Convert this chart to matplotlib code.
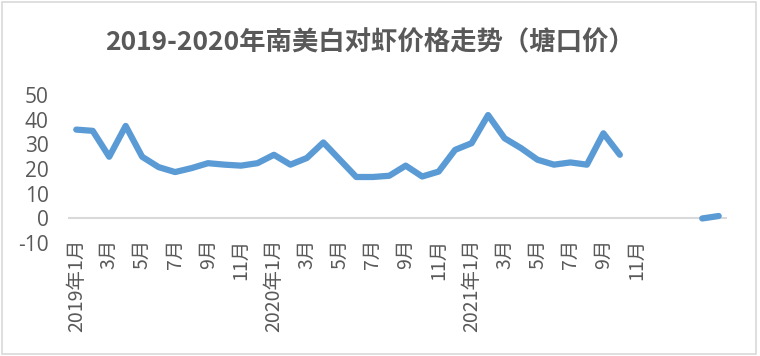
import matplotlib.pyplot as plt
from matplotlib.patches import Rectangle

plt.rcParams['font.family'] = ['Noto Sans CJK SC', 'DejaVu Sans']

title = '2019-2020年南美白对虾价格走势（塘口价）'

# monthly categories, 2019-01 .. 2022-04; later ones carry no label
months = ['2019年1月', '2月', '3月', '4月', '5月', '6月', '7月', '8月', '9月', '10月', '11月', '12月',
          '2020年1月', '2月', '3月', '4月', '5月', '6月', '7月', '8月', '9月', '10月', '11月', '12月',
          '2021年1月', '2月', '3月', '4月', '5月', '6月', '7月', '8月', '9月', '10月', '11月', '',
          '', '', '', '']
prices = [36, 35.5, 25, 37.5, 25, 20.8, 18.8, 20.4, 22.4, 21.8, 21.4, 22.4,
          25.8, 21.8, 24.5, 30.8, 23.8, 16.8, 16.8, 17.3, 21.4, 17, 19, 27.8,
          30.5, 41.9, 32.5, 28.5, 23.8, 21.8, 22.7, 21.8, 34.5, 25.8, None, None,
          None, None, 0, 1]

yticks = [-10, 0, 10, 20, 30, 40, 50]

fig = plt.figure(figsize=(7.6, 3.56), dpi=100)
fig.patches.append(Rectangle((0.003, 0.005), 0.992, 0.99, transform=fig.transFigure,
                             fill=False, edgecolor='#D9D9D9', linewidth=1.2))
ax = fig.add_axes([0.0895, 0.317, 0.867, 0.416])

x = list(range(len(months)))
y = [float('nan') if v is None else v for v in prices]
ax.axhline(0, color='#D9D9D9', linewidth=1.5, zorder=1)
ax.plot(x, y, color='#5B9BD5', linewidth=4.5, solid_capstyle='round',
        solid_joinstyle='round', zorder=2)

ax.set_xlim(-0.5, len(months) - 0.5)
ax.set_ylim(-10, 50)
ax.set_yticks(yticks)
ax.set_yticklabels([str(t) for t in yticks], fontsize=15, color='#595959',
                   family=['Open Sans', 'DejaVu Sans'])
tick_pos = x[::2]
ax.set_xticks(tick_pos)
ax.set_xticklabels([months[i] for i in tick_pos], rotation=90, fontsize=14,
                   color='#595959', va='top', fontweight='light')
ax.tick_params(axis='x', length=0, pad=-3)
ax.tick_params(axis='y', length=0, pad=14)
for s in ax.spines.values():
    s.set_visible(False)

fig.text(0.487, 0.88, title, ha='center', va='center', fontsize=19,
         fontweight='bold', color='#595959')

fig.savefig('out.png', dpi=100)
